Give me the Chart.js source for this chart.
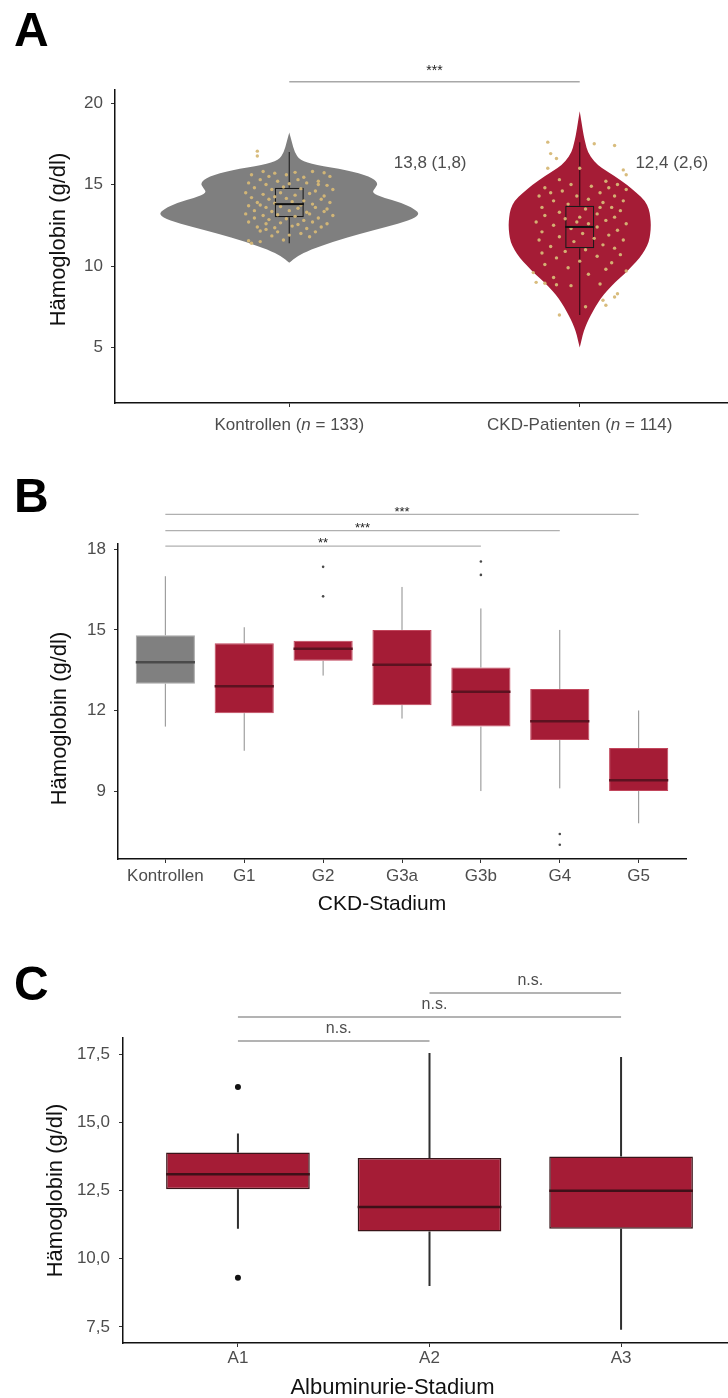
<!DOCTYPE html>
<html lang="de">
<head>
<meta charset="utf-8">
<title>Hämoglobin – Kontrollen, CKD-Stadium, Albuminurie-Stadium</title>
<script src="https://cdn.jsdelivr.net/npm/chart.js@4.4.1/dist/chart.umd.min.js"></script>
<style>
  html, body { margin: 0; padding: 0; background: #fff; }
  body { width: 728px; height: 1398px; position: relative; overflow: hidden; }
  canvas { position: absolute; left: 0; }
  .tag { position: absolute; left: 14px; font: bold 48px/1 'Liberation Sans', Arial, sans-serif; color: #000; }
</style>
</head>
<body>
<canvas id="panelA" width="760" height="460" style="top:0"></canvas>
<canvas id="panelB" width="740" height="460" style="top:460px"></canvas>
<canvas id="panelC" width="740" height="490" style="top:920px"></canvas>
<div class="tag" style="top:6px">A</div>
<div class="tag" style="top:472px">B</div>
<div class="tag" style="top:960px">C</div>

<script>
// ---- A: Kontrollen vs. CKD-Patienten ----
const groupsA = ['Kontrollen', 'CKD-Patienten'];
const nA = [133, 114];
const loA = [11.4, 7.0];
const q1A = [13.0, 11.1];
const medA = [13.8, 12.4];
const q3A = [14.8, 13.7];
const hiA = [17.0, 17.6];
const ticksA = [5, 10, 15, 20];

// violin outlines: Hb value and relative density
const violinValsK = [18.2, 17.6, 17.0, 16.5, 16.2, 15.9, 15.5, 15.1, 14.8, 14.5, 14.2, 13.9, 13.5, 13.15, 12.8, 12.4, 12.0, 11.5, 11.0, 10.6, 10.2];
const violinDensK = [0, 0.02, 0.04, 0.08, 0.2, 0.44, 0.62, 0.68, 0.66, 0.63, 0.72, 0.85, 0.96, 1.0, 0.92, 0.74, 0.55, 0.34, 0.16, 0.06, 0];
const violinValsP = [19.5, 19.0, 18.0, 17.5, 17.0, 16.4, 16.0, 15.5, 15.0, 14.5, 14.0, 13.5, 13.0, 12.5, 12.0, 11.5, 11.0, 10.5, 10.0, 9.5, 9.0, 8.5, 8.0, 7.5, 7.0, 6.5, 6.0, 5.5, 5.0];
const violinDensP = [0, 0.01, 0.03, 0.045, 0.06, 0.11, 0.17, 0.27, 0.36, 0.435, 0.5, 0.53, 0.54, 0.545, 0.54, 0.53, 0.5, 0.46, 0.4, 0.34, 0.27, 0.21, 0.16, 0.12, 0.085, 0.055, 0.03, 0.015, 0];

// single values, jittered around the group position
const pointsK = [
  [0.89,17.05],[0.89,16.75],[0.86,11.55],[0.87,11.4],[0.9,11.5],
  [0.91,15.8],[0.95,15.7],[1.02,15.75],[1.08,15.8],[1.12,15.72],[0.87,15.6],[0.93,15.5],[0.99,15.6],[1.05,15.45],[1.14,15.5],
  [0.9,15.3],[0.96,15.2],[1.03,15.3],[1.1,15.2],[0.86,15.1],[0.92,15.0],[1.0,15.05],[1.06,15.1],[1.13,14.95],[1.1,15.0],
  [0.88,14.8],[0.94,14.7],[0.98,14.85],[1.04,14.75],[1.09,14.6],[1.15,14.7],[0.85,14.5],[0.91,14.4],[0.97,14.5],[1.02,14.35],[1.07,14.45],[1.12,14.3],
  [0.87,14.2],[0.93,14.1],[0.99,14.15],[1.05,14.0],[1.11,14.1],[0.95,14.25],[0.89,13.9],[0.95,13.85],[1.01,13.95],[1.08,13.8],[1.14,13.9],[0.9,13.75],[1.04,13.75],
  [0.86,13.7],[0.92,13.6],[0.97,13.65],[1.03,13.55],[1.09,13.6],[1.13,13.5],[0.88,13.4],[0.94,13.35],[1.0,13.4],[1.06,13.3],[1.12,13.35],
  [0.85,13.2],[0.91,13.1],[0.96,13.15],[1.02,13.05],[1.07,13.2],[1.15,13.1],[0.88,12.95],[0.93,12.85],[0.99,12.9],[1.05,12.8],[1.1,12.95],
  [0.86,12.7],[0.92,12.6],[0.97,12.65],[1.03,12.55],[1.08,12.7],[1.13,12.6],[0.89,12.4],[0.95,12.35],[1.01,12.45],[1.06,12.3],[1.11,12.4],[0.92,12.25],
  [0.9,12.15],[0.96,12.1],[1.04,12.0],[1.09,12.1],[0.94,11.85],[1.0,11.9],[1.07,11.8],[0.98,11.6]
];
const pointsP = [
  [1.89,17.6],[2.12,17.4],[2.05,17.5],[1.9,16.9],[1.92,16.6],[1.89,16.0],[2.15,15.9],[2.16,15.6],[2.0,16.0],
  [1.93,15.3],[2.09,15.2],[2.13,15.0],[1.97,15.0],[2.04,14.9],[1.88,14.8],[2.1,14.8],[2.16,14.7],[1.94,14.6],[2.07,14.5],[1.9,14.5],
  [1.86,14.3],[2.12,14.3],[1.99,14.3],[2.03,14.1],[1.91,14.0],[2.15,14.0],[2.08,13.9],[1.96,13.8],[1.87,13.6],[2.11,13.6],[2.07,13.6],[2.02,13.5],[2.14,13.4],
  [1.93,13.3],[2.06,13.2],[1.88,13.1],[2.0,13.0],[2.12,13.0],[1.95,12.9],[2.09,12.8],[1.85,12.7],[1.99,12.7],[2.03,12.6],[2.16,12.6],[1.91,12.5],
  [2.06,12.4],[1.97,12.3],[2.13,12.2],[1.87,12.1],[2.01,12.0],[2.1,11.9],[1.93,11.8],[2.05,11.7],[1.86,11.6],[2.15,11.6],[1.98,11.5],
  [2.08,11.3],[1.9,11.2],[2.12,11.1],[2.02,11.0],[1.95,10.9],[1.87,10.8],[2.14,10.7],[2.06,10.6],[1.92,10.5],[2.0,10.3],[2.11,10.2],
  [1.88,10.1],[1.96,9.9],[2.09,9.8],[2.16,9.7],[1.84,9.6],[2.03,9.5],[1.91,9.3],[1.85,9.0],[1.88,8.95],[1.92,8.85],[1.97,8.8],[2.07,8.9],
  [2.13,8.3],[2.12,8.1],[2.08,7.9],[2.09,7.6],[1.93,7.0],[2.02,7.5]
];

// ---- B: CKD-Stadium ----
const catsB = ['Kontrollen', 'G1', 'G2', 'G3a', 'G3b', 'G4', 'G5'];
const loB = [11.4, 10.5, 13.3, 11.7, 9.0, 9.1, 7.8];
const q1B = [13.0, 11.9, 13.85, 12.2, 11.4, 10.9, 9.0];
const medB = [13.8, 12.9, 14.3, 13.7, 12.7, 11.6, 9.4];
const q3B = [14.8, 14.5, 14.6, 15.0, 13.6, 12.8, 10.6];
const hiB = [17.0, 15.1, 14.6, 16.6, 15.8, 15.0, 12.0];
const outXB = [2, 2, 4, 4, 5, 5];
const outYB = [17.35, 16.25, 17.55, 17.05, 7.4, 7.0];
const ticksB = [9, 12, 15, 18];
const sigFromB = [0, 0, 0];
const sigToB = [6, 5, 4];
const sigAtB = [19.3, 18.7, 18.12];
const sigTextB = ['***', '***', '**'];

// ---- C: Albuminurie-Stadium ----
const catsC = ['A1', 'A2', 'A3'];
const loC = [11.1, 9.0, 7.4];
const q1C = [12.55, 11.0, 11.1];
const medC = [13.1, 11.9, 12.5];
const q3C = [13.9, 13.7, 13.75];
const hiC = [14.6, 17.55, 17.4];
const outXC = [0, 0];
const outYC = [16.3, 9.3];
const ticksC = [7.5, 10, 12.5, 15, 17.5];
const sigFromC = [1, 0, 0];
const sigToC = [2, 2, 1];
const sigAtC = [19.75, 18.87, 17.99];
const sigTextC = ['n.s.', 'n.s.', 'n.s.'];

const FONT = "'Liberation Sans', Arial, Helvetica, sans-serif";
const RED = '#a51c36';
const GREY = '#808080';
const HB = 'Hämoglobin (g/dl)';
const comma = (v, d) => v.toFixed(d).replace('.', ',');

Chart.defaults.font.family = FONT;

// closed outline through the points, smoothed with quadratic segments
function smoothShape(ctx, pts) {
  const mid = (a, b) => [(a[0] + b[0]) / 2, (a[1] + b[1]) / 2];
  const n = pts.length;
  const start = mid(pts[n - 1], pts[0]);
  ctx.moveTo(start[0], start[1]);
  for (let i = 0; i < n; i++) {
    const q = mid(pts[i], pts[(i + 1) % n]);
    ctx.quadraticCurveTo(pts[i][0], pts[i][1], q[0], q[1]);
  }
  ctx.closePath();
}

const pick = (c, i) => Array.isArray(c) ? c[i] : c;

// violins, whiskers, medians, significance brackets, axis titles and notes
const statLayers = {
  id: 'statLayers',
  beforeDatasetsDraw(chart, _args, opts) {
    const { ctx, scales: { x, y } } = chart;
    ctx.save();
    (opts.violins || []).forEach(v => {
      const right = v.vals.map((val, k) => [x.getPixelForValue(v.at + v.dens[k] * opts.violinHalf), y.getPixelForValue(val)]);
      const left = v.vals.map((val, k) => [x.getPixelForValue(v.at - v.dens[k] * opts.violinHalf), y.getPixelForValue(val)]).reverse();
      ctx.beginPath();
      smoothShape(ctx, right.concat(left));
      ctx.fillStyle = v.color;
      ctx.fill();
    });
    const w = opts.whiskers;
    if (w) {
      ctx.lineWidth = w.width;
      w.lo.forEach((lo, i) => {
        const cx = x.getPixelForValue(w.at[i]);
        ctx.strokeStyle = pick(w.color, i);
        ctx.beginPath();
        ctx.moveTo(cx, y.getPixelForValue(lo));
        ctx.lineTo(cx, y.getPixelForValue(w.q1[i]));
        ctx.moveTo(cx, y.getPixelForValue(w.q3[i]));
        ctx.lineTo(cx, y.getPixelForValue(w.hi[i]));
        ctx.stroke();
      });
    }
    ctx.restore();
  },
  afterDatasetsDraw(chart, _args, opts) {
    const { ctx, scales: { x, y } } = chart;
    const m = opts.medians;
    if (!m) return;
    ctx.save();
    ctx.lineWidth = m.width;
    m.values.forEach((v, i) => {
      const py = y.getPixelForValue(v);
      ctx.strokeStyle = pick(m.color, i);
      ctx.beginPath();
      ctx.moveTo(x.getPixelForValue(m.at[i] - m.box / 2), py);
      ctx.lineTo(x.getPixelForValue(m.at[i] + m.box / 2), py);
      ctx.stroke();
    });
    ctx.restore();
  },
  afterDraw(chart, _args, opts) {
    const { ctx, chartArea: area, scales: { x, y } } = chart;
    ctx.save();
    const b = opts.brackets;
    if (b) {
      b.from.forEach((f, i) => {
        const x0 = x.getPixelForValue(f), x1 = x.getPixelForValue(b.to[i]);
        const py = y.getPixelForValue(b.at[i]);
        ctx.strokeStyle = b.color;
        ctx.lineWidth = b.width;
        ctx.beginPath();
        ctx.moveTo(x0, py);
        ctx.lineTo(x1, py);
        ctx.stroke();
        ctx.fillStyle = b.textColor;
        ctx.font = b.font;
        ctx.textAlign = 'center';
        ctx.textBaseline = 'middle';
        ctx.fillText(b.text[i], (x0 + x1) / 2 + b.shift, py - b.lift);
      });
    }
    const t = opts.titles;
    if (t) {
      ctx.fillStyle = '#111';
      ctx.textAlign = 'center';
      ctx.textBaseline = 'middle';
      if (t.y) {
        ctx.save();
        ctx.translate(t.y.x, (area.top + area.bottom) / 2 + t.y.dy);
        ctx.rotate(-Math.PI / 2);
        ctx.font = t.y.size + 'px ' + FONT;
        ctx.fillText(t.y.text, 0, 0);
        ctx.restore();
      }
      if (t.x) {
        ctx.font = t.x.size + 'px ' + FONT;
        ctx.fillText(t.x.text, (area.left + area.right) / 2 + t.x.dx, area.bottom + t.x.below);
      }
    }
    const g = opts.groupLabels;
    if (g) {
      ctx.fillStyle = '#4d4d4d';
      ctx.textBaseline = 'middle';
      ctx.textAlign = 'left';
      const py = area.bottom + 22;
      g.names.forEach((name, i) => {
        const parts = [[name + ' (', ''], ['n', 'italic '], [' = ' + g.n[i] + ')', '']];
        let total = 0;
        parts.forEach(p => { ctx.font = p[1] + '17px ' + FONT; p.w = ctx.measureText(p[0]).width; total += p.w; });
        let px = x.getPixelForValue(g.at[i]) - total / 2;
        parts.forEach(p => { ctx.font = p[1] + '17px ' + FONT; ctx.fillText(p[0], px, py); px += p.w; });
      });
    }
    const nt = opts.notes;
    if (nt) {
      ctx.fillStyle = '#4d4d4d';
      ctx.font = '17px ' + FONT;
      ctx.textAlign = 'center';
      ctx.textBaseline = 'middle';
      nt.med.forEach((md, i) => {
        const txt = comma(md, 1) + ' (' + comma(nt.q3[i] - nt.q1[i], 1) + ')';
        ctx.fillText(txt, x.getPixelForValue(nt.at[i] + nt.dx[i]), y.getPixelForValue(nt.y));
      });
    }
    ctx.restore();
  }
};

function yAxis(min, max, ticks, fmt, width, pad) {
  return {
    type: 'linear', min, max,
    afterBuildTicks: s => { s.ticks = ticks.map(v => ({ value: v })); },
    afterFit: s => { s.width = width; },
    ticks: { callback: v => fmt(v), color: '#4d4d4d', font: { size: 17 }, padding: pad },
    grid: { drawOnChartArea: false, drawTicks: true, tickLength: 4, color: '#333' },
    border: { display: true, color: '#111', width: 1.5 },
    title: { display: false }
  };
}

function xAxis(min, max, ticks, labelFor, height, pad) {
  return {
    type: 'linear', min, max, offset: false,
    afterBuildTicks: s => { s.ticks = ticks.map(v => ({ value: v })); },
    afterFit: s => { s.height = height; },
    ticks: { callback: v => labelFor(v), autoSkip: false, maxRotation: 0, color: '#4d4d4d', font: { size: 17 }, padding: pad },
    grid: { drawOnChartArea: false, drawTicks: true, tickLength: 4, color: '#333', offset: false },
    border: { display: true, color: '#111', width: 1.5 },
    title: { display: false }
  };
}

const common = { responsive: false, animation: false, events: [] };
const noLegend = { legend: { display: false }, tooltip: { enabled: false } };

// A: violins with box and single values
new Chart(document.getElementById('panelA'), {
  type: 'bar',
  data: {
    datasets: [
      { type: 'scatter', data: pointsK.map(([x, y]) => ({ x, y })), pointRadius: 1.7, borderWidth: 0, backgroundColor: 'rgba(214,184,118,0.95)', order: 0 },
      { type: 'scatter', data: pointsP.map(([x, y]) => ({ x, y })), pointRadius: 1.7, borderWidth: 0, backgroundColor: 'rgba(214,184,118,0.95)', order: 0 },
      {
        data: groupsA.map((g, i) => ({ x: i + 1, y: [q1A[i], q3A[i]] })),
        backgroundColor: 'rgba(0,0,0,0)', borderColor: '#1a1a1a', borderWidth: 1.2, borderSkipped: false,
        barPercentage: 0.1, categoryPercentage: 1, order: 1
      }
    ]
  },
  options: {
    ...common,
    layout: { padding: { top: 90, right: 6, left: 0, bottom: 0 } },
    plugins: {
      ...noLegend,
      statLayers: {
        violinHalf: 0.45,
        violins: [
          { at: 1, vals: violinValsK, dens: violinDensK, color: '#7f7f7f' },
          { at: 2, vals: violinValsP, dens: violinDensP, color: RED }
        ],
        whiskers: { at: [1, 2], lo: loA, q1: q1A, q3: q3A, hi: hiA, color: ['#262626', '#3a0c16'], width: 1.2 },
        medians: { at: [1, 2], values: medA, box: 0.1, color: '#111', width: 2 },
        brackets: { from: [1], to: [2], at: [21.3], text: ['***'], color: '#a8a8a8', width: 1.5, textColor: '#222', font: '14px ' + FONT, lift: 11, shift: 0 },
        titles: { y: { text: HB, x: 59, dy: -7, size: 22 } },
        groupLabels: { at: [1, 2], names: groupsA, n: nA },
        notes: { at: [1, 2], dx: [0.485, 0.317], y: 16.3, med: medA, q1: q1A, q3: q3A }
      }
    },
    scales: {
      x: xAxis(0.4, 2.6, [1, 2], () => '', 57, 3),
      y: yAxis(1.6, 20.8, ticksA, v => String(v), 115, 8)
    }
  },
  plugins: [statLayers]
});

// B: boxplots by CKD stage
new Chart(document.getElementById('panelB'), {
  type: 'bar',
  data: {
    datasets: [
      { type: 'scatter', data: outXB.map((x, i) => ({ x, y: outYB[i] })), pointRadius: 1.3, borderWidth: 0, backgroundColor: '#4a4a4a', order: 0 },
      {
        data: catsB.map((c, i) => ({ x: i, y: [q1B[i], q3B[i]] })),
        backgroundColor: catsB.map((c, i) => i === 0 ? GREY : RED),
        borderColor: catsB.map((c, i) => i === 0 ? '#a6a6a6' : '#c2465c'),
        borderWidth: 1, borderSkipped: false,
        barPercentage: 0.75, categoryPercentage: 1, order: 1
      }
    ]
  },
  options: {
    ...common,
    layout: { padding: { top: 84, right: 54, left: 0, bottom: 0 } },
    plugins: {
      ...noLegend,
      statLayers: {
        whiskers: { at: catsB.map((c, i) => i), lo: loB, q1: q1B, q3: q3B, hi: hiB, color: '#8c8c8c', width: 1 },
        medians: { at: catsB.map((c, i) => i), values: medB, box: 0.75, color: catsB.map((c, i) => i === 0 ? '#4a4a4a' : '#5c1220'), width: 2.5 },
        brackets: { from: sigFromB, to: sigToB, at: sigAtB, text: sigTextB, color: '#b0b0b0', width: 1.3, textColor: '#222', font: '13px ' + FONT, lift: 2.5, shift: 0 },
        titles: {
          y: { text: HB, x: 60, dy: 17, size: 22 },
          x: { text: 'CKD-Stadium', dx: -20, below: 45, size: 21 }
        }
      }
    },
    scales: {
      x: xAxis(-0.6, 6.6, catsB.map((c, i) => i), v => catsB[v], 61, 3),
      y: yAxis(6.47, 18.2, ticksB, v => String(v), 118, 8)
    }
  },
  plugins: [statLayers]
});

// C: boxplots by albuminuria stage
new Chart(document.getElementById('panelC'), {
  type: 'bar',
  data: {
    datasets: [
      { type: 'scatter', data: outXC.map((x, i) => ({ x, y: outYC[i] })), pointRadius: 3, borderWidth: 0, backgroundColor: '#111', order: 0 },
      {
        data: catsC.map((c, i) => ({ x: i, y: [q1C[i], q3C[i]] })),
        backgroundColor: RED, borderColor: '#3a1419', borderWidth: 1.5, borderSkipped: false,
        barPercentage: 0.75, categoryPercentage: 1, order: 1
      }
    ]
  },
  options: {
    ...common,
    layout: { padding: { top: 118, right: 4, left: 0, bottom: 0 } },
    plugins: {
      ...noLegend,
      statLayers: {
        whiskers: { at: catsC.map((c, i) => i), lo: loC, q1: q1C, q3: q3C, hi: hiC, color: '#2f2f2f', width: 2 },
        medians: { at: catsC.map((c, i) => i), values: medC, box: 0.75, color: '#3e1018', width: 2.5 },
        brackets: { from: sigFromC, to: sigToC, at: sigAtC, text: sigTextC, color: '#9a9a9a', width: 1.5, textColor: '#4d4d4d', font: '16px ' + FONT, lift: 12, shift: 5 },
        titles: {
          y: { text: HB, x: 56, dy: 0, size: 22 },
          x: { text: 'Albuminurie-Stadium', dx: -37, below: 45, size: 22 }
        }
      }
    },
    scales: {
      x: xAxis(-0.6, 2.6, catsC.map((c, i) => i), v => catsC[v], 67, 1),
      y: yAxis(6.91, 18.1, ticksC, v => comma(v, 1), 123, 9)
    }
  },
  plugins: [statLayers]
});
</script>
</body>
</html>
